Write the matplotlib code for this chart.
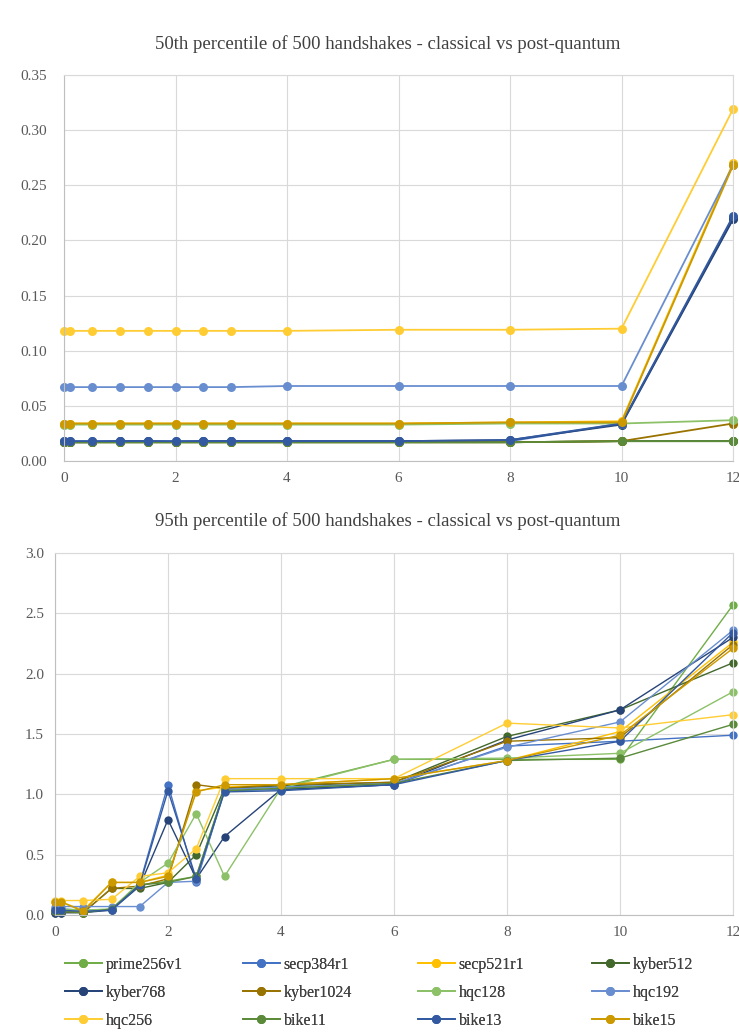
import numpy as np
import matplotlib
matplotlib.use("Agg")
import matplotlib.pyplot as plt
from matplotlib.ticker import FormatStrFormatter, MultipleLocator

plt.rcParams['font.family'] = ['Liberation Serif', 'DejaVu Serif']

# packet loss (%) on the x axis
loss = [0, 0.1, 0.5, 1, 1.5, 2, 2.5, 3, 4, 6, 8, 10, 12]

names = ["prime256v1", "secp384r1", "secp521r1", "kyber512", "kyber768", "kyber1024",
         "hqc128", "hqc192", "hqc256", "bike11", "bike13", "bike15"]
colors = ["#70AD47", "#4472C4", "#FFC000", "#43682B", "#264478", "#997300",
          "#8CC168", "#698ED0", "#FFCD33", "#5A8A3A", "#335AA1", "#CC9A00"]

# 50th percentile (s)
p50_prime256v1 = [0.017, 0.017, 0.017, 0.017, 0.017, 0.017, 0.017, 0.017, 0.017, 0.017, 0.017, 0.018, 0.018]
p50_secp384r1 = [0.018, 0.018, 0.018, 0.018, 0.018, 0.018, 0.018, 0.018, 0.018, 0.018, 0.018, 0.034, 0.220]
p50_secp521r1 = [0.034, 0.034, 0.034, 0.034, 0.034, 0.034, 0.034, 0.034, 0.034, 0.034, 0.035, 0.036, 0.270]
p50_kyber512 = [0.017, 0.017, 0.017, 0.017, 0.017, 0.017, 0.017, 0.017, 0.017, 0.017, 0.017, 0.018, 0.018]
p50_kyber768 = [0.017, 0.017, 0.017, 0.018, 0.018, 0.017, 0.018, 0.018, 0.018, 0.018, 0.019, 0.033, 0.219]
p50_kyber1024 = [0.017, 0.017, 0.017, 0.017, 0.017, 0.017, 0.017, 0.017, 0.017, 0.017, 0.017, 0.018, 0.034]
p50_hqc128 = [0.033, 0.033, 0.033, 0.033, 0.033, 0.033, 0.033, 0.033, 0.033, 0.033, 0.034, 0.034, 0.037]
p50_hqc192 = [0.067, 0.067, 0.067, 0.067, 0.067, 0.067, 0.067, 0.067, 0.068, 0.068, 0.068, 0.068, 0.268]
p50_hqc256 = [0.118, 0.118, 0.118, 0.118, 0.118, 0.118, 0.118, 0.118, 0.118, 0.119, 0.119, 0.120, 0.319]
p50_bike11 = [0.017, 0.017, 0.017, 0.017, 0.017, 0.017, 0.017, 0.017, 0.017, 0.017, 0.017, 0.018, 0.018]
p50_bike13 = [0.018, 0.018, 0.018, 0.018, 0.018, 0.018, 0.018, 0.018, 0.018, 0.018, 0.019, 0.034, 0.222]
p50_bike15 = [0.034, 0.034, 0.034, 0.034, 0.034, 0.034, 0.034, 0.034, 0.034, 0.034, 0.035, 0.035, 0.268]

# 95th percentile (s)
p95_prime256v1 = [0.03, 0.03, 0.02, 0.05, 0.25, 0.28, 0.32, 1.04, 1.06, 1.29, 1.29, 1.29, 2.57]
p95_secp384r1 = [0.05, 0.05, 0.04, 0.04, 0.26, 1.08, 0.27, 1.03, 1.04, 1.08, 1.40, 1.44, 1.49]
p95_secp521r1 = [0.11, 0.11, 0.04, 0.27, 0.27, 0.33, 1.03, 1.06, 1.08, 1.13, 1.28, 1.52, 2.26]
p95_kyber512 = [0.02, 0.02, 0.02, 0.22, 0.22, 0.27, 0.50, 1.05, 1.07, 1.10, 1.48, 1.70, 2.09]
p95_kyber768 = [0.02, 0.02, 0.02, 0.04, 0.24, 0.79, 0.30, 0.65, 1.04, 1.08, 1.45, 1.70, 2.30]
p95_kyber1024 = [0.03, 0.03, 0.02, 0.22, 0.24, 0.30, 1.08, 1.05, 1.08, 1.10, 1.44, 1.47, 2.24]
p95_hqc128 = [0.05, 0.05, 0.04, 0.05, 0.27, 0.43, 0.84, 0.32, 1.05, 1.29, 1.30, 1.34, 1.85]
p95_hqc192 = [0.07, 0.07, 0.07, 0.07, 0.07, 0.27, 0.28, 1.04, 1.06, 1.09, 1.39, 1.60, 2.36]
p95_hqc256 = [0.12, 0.12, 0.12, 0.13, 0.32, 0.35, 0.55, 1.13, 1.13, 1.13, 1.59, 1.55, 1.66]
p95_bike11 = [0.03, 0.03, 0.02, 0.05, 0.25, 0.27, 0.32, 1.03, 1.05, 1.09, 1.28, 1.30, 1.58]
p95_bike13 = [0.04, 0.04, 0.03, 0.04, 0.25, 1.03, 0.30, 1.02, 1.03, 1.08, 1.28, 1.44, 2.34]
p95_bike15 = [0.11, 0.11, 0.03, 0.27, 0.27, 0.32, 1.02, 1.08, 1.08, 1.13, 1.28, 1.49, 2.21]

p50 = [p50_prime256v1, p50_secp384r1, p50_secp521r1, p50_kyber512, p50_kyber768, p50_kyber1024,
       p50_hqc128, p50_hqc192, p50_hqc256, p50_bike11, p50_bike13, p50_bike15]
p95 = [p95_prime256v1, p95_secp384r1, p95_secp521r1, p95_kyber512, p95_kyber768, p95_kyber1024,
       p95_hqc128, p95_hqc192, p95_hqc256, p95_bike11, p95_bike13, p95_bike15]

W, H = 739, 1032
fig = plt.figure(figsize=(W / 100, H / 100), dpi=100)

def px_axes(l, t, r, b):
    return fig.add_axes([l / W, 1 - b / H, (r - l) / W, (b - t) / H])

ax1 = px_axes(64, 75, 733, 461)
ax2 = px_axes(55, 553, 733, 915)

grid_c = "#D9D9D9"
tick_c = "#595959"

def style(ax, ymax, ystep, fmt, ypad):
    ax.set_xlim(0, 12)
    ax.set_ylim(0, ymax)
    ax.xaxis.set_major_locator(MultipleLocator(2))
    ax.yaxis.set_major_locator(MultipleLocator(ystep))
    ax.yaxis.set_major_formatter(FormatStrFormatter(fmt))
    ax.grid(True, color=grid_c, linewidth=0.8)
    ax.set_axisbelow(True)
    for s in ["top", "right"]:
        ax.spines[s].set_color(grid_c)
        ax.spines[s].set_linewidth(0.8)
    for s in ["left", "bottom"]:
        ax.spines[s].set_color("#BFBFBF")
        ax.spines[s].set_linewidth(0.8)
    ax.tick_params(length=0, labelsize=11, colors=tick_c)
    ax.tick_params(axis="x", pad=8)
    ax.tick_params(axis="y", pad=ypad)

lines = []
for vals, c, n in zip(p50, colors, names):
    ln, = ax1.plot(loss, vals, color=c, linewidth=1.3, marker="o", markersize=6.5,
                   markeredgewidth=0, label=n, clip_on=False)
    lines.append(ln)
for vals, c, n in zip(p95, colors, names):
    ax2.plot(loss, vals, color=c, linewidth=1.0, marker="o", markersize=6,
             markeredgewidth=0, label=n, clip_on=False)

style(ax1, 0.35, 0.05, "%.2f", 12)
style(ax2, 3.0, 0.5, "%.1f", 8)

fig.text(388 / W, 1 - 44 / H, "50th percentile of 500 handshakes - classical vs post-quantum",
         ha="center", va="center", fontsize=13.5, color="#404040")
fig.text(388 / W, 1 - 521 / H, "95th percentile of 500 handshakes - classical vs post-quantum",
         ha="center", va="center", fontsize=13.5, color="#404040")

# legend laid out row by row, one small legend per column
col_x = [65, 243, 418, 592]
for j, x in enumerate(col_x):
    idx = [j, j + 4, j + 8]
    lg = fig.legend(handles=[lines[i] for i in idx], labels=[names[i] for i in idx],
                    loc="upper left", bbox_to_anchor=(x / W, 1 - 957 / H), frameon=False,
                    fontsize=11.5, handlelength=2.3, handletextpad=0.25, labelspacing=0.75,
                    borderaxespad=0, borderpad=0, labelcolor="#404040")
    fig.add_artist(lg)

fig.savefig("out.png", dpi=100)
